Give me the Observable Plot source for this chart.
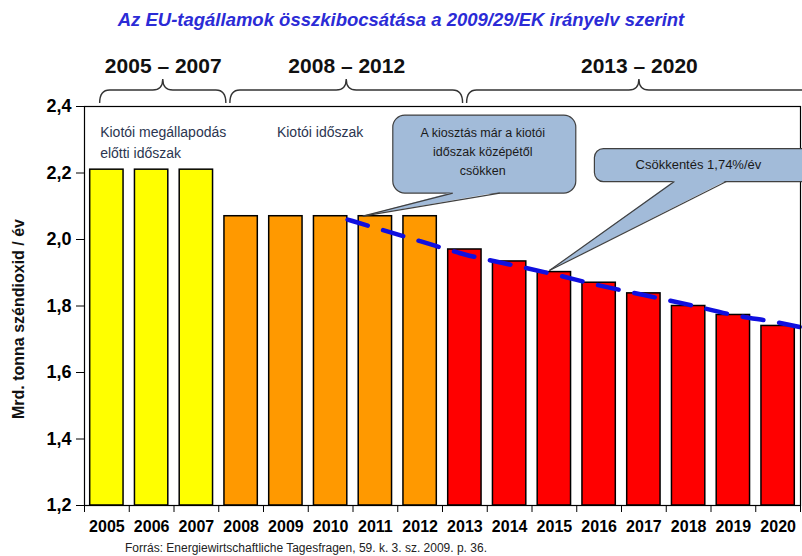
<!DOCTYPE html>
<html><head><meta charset="utf-8">
<script src="https://cdn.jsdelivr.net/npm/d3@7"></script>
<script src="https://cdn.jsdelivr.net/npm/@observablehq/plot@0.6"></script>
<style>
body{margin:0;background:#fff;width:802px;font-family:"Liberation Sans",Arial,sans-serif;}
#title{height:38px;box-sizing:border-box;padding-top:10px;text-align:center;font-style:italic;font-weight:bold;font-size:18.5px;color:#2b2bd6;line-height:20px;}
#caption{height:15px;line-height:15px;font-size:12px;padding-left:125px;color:#222;}
</style></head>
<body>
<div id="title">Az EU-tagállamok összkibocsátása  a 2009/29/EK irányelv szerint</div>
<div id="chart"></div>
<div id="caption">Forrás: Energiewirtschaftliche Tagesfragen, 59. k. 3. sz. 2009. p. 36.</div>
<script>
const years = [2005,2006,2007,2008,2009,2010,2011,2012,2013,2014,2015,2016,2017,2018,2019,2020];
const values = [2.21,2.21,2.21,2.07,2.07,2.07,2.07,2.07,1.97,1.934,1.902,1.870,1.838,1.80,1.773,1.74];
const periodIndex = [0,0,0,1,1,1,1,1,2,2,2,2,2,2,2,2];
const periodNames = ["2005 – 2007","2008 – 2012","2013 – 2020"];
const periodColors = ["#ffff00","#ff9900","#ff0000"];
const braceStart = [2004.85, 2007.76, 2013.05];
const braceEnd = [2007.67, 2012.96, 2020.75];
const yTicks = [1.2,1.4,1.6,1.8,2.0,2.2,2.4];
const noteTexts = ["Kiotói megállapodás\nelőtti időszak", "Kiotói időszak"];
const noteX = [2004.85, 2008.8];
const trendX = [2010.38,2011,2012,2013,2014,2015,2016,2017,2018,2019,2020,2020.55];
const trendY = [2.06,2.035,1.995,1.955,1.925,1.895,1.862,1.833,1.804,1.773,1.750,1.735];
const calloutTexts = [["A kiosztás már a kiotói","időszak középétől","csökken"],["Csökkentés 1,74%/év"]];
const calloutYear = [2010.73, 2014.9];
const calloutValue = [2.069, 1.905];
const yLabel = "Mrd. tonna széndioxid / év";

const bars = years.map((y,i)=>({year:y, value:values[i], color:periodColors[periodIndex[i]]}));
const trend = trendX.map((x,i)=>({x, y:trendY[i]}));
const boundaries = years.map(y=>y-0.5).concat([years[years.length-1]+0.5]);
const fmt = d => d.toFixed(1).replace(".", ",");

const W=802, H=503, mL=84, mR=2, mT=68, mB=36;
const chart = Plot.plot({
  width:W, height:H, marginLeft:mL, marginRight:mR, marginTop:mT, marginBottom:mB,
  style:{fontFamily:"Liberation Sans, Arial, sans-serif", background:"#fff", overflow:"visible", color:"#000"},
  x:{type:"linear", domain:[2004.5,2020.5]},
  y:{domain:[1.2,2.4]},
  color:{type:"identity"},
  marks:[
    Plot.rect(bars,{x1:d=>d.year-0.5, x2:d=>d.year+0.5, y1:1.2, y2:"value", fill:"color", stroke:"#000", strokeWidth:1.5, insetLeft:5.7, insetRight:5.7}),
    Plot.line(trend,{x:"x", y:"y", stroke:"#0f0fe0", strokeWidth:4.5, strokeDasharray:"21,16", curve:"monotone-x"}),
    Plot.frame({stroke:"#000", strokeWidth:1.2}),
    Plot.axisY({ticks:yTicks, tickFormat:fmt, tickSize:8, tickPadding:5, fontSize:18, fontWeight:"bold", label:null}),
    Plot.axisX({ticks:boundaries, tickFormat:()=>"", tickSize:7, label:null}),
    Plot.axisX({ticks:years, tickFormat:d=>String(d), tickSize:0, tickPadding:15, fontSize:16, fontWeight:"bold", label:null}),
    Plot.text(periodNames,{x:(d,i)=>(braceStart[i]+braceEnd[i])/2, frameAnchor:"top", lineAnchor:"middle", dy:-40, fontSize:21, fontWeight:"bold", fill:"#111"}),
    Plot.text(noteTexts,{x:(d,i)=>noteX[i], frameAnchor:"top", dy:16, textAnchor:"start", lineAnchor:"top", lineHeight:1.5, fontSize:14, fill:"#2b3550"}),
    Plot.text([yLabel],{frameAnchor:"left", textAnchor:"middle", lineAnchor:"middle", dx:-66, dy:13, rotate:-90, fontSize:16, fontWeight:"bold", fill:"#111"})
  ]
});
document.getElementById("chart").appendChild(chart);

const sx = chart.scale("x"), sy = chart.scale("y");
const svg = d3.select(chart);
const g = svg.append("g");
// braces
periodNames.forEach((p,i)=>{
  const xa = sx.apply(braceStart[i]), xb = sx.apply(braceEnd[i]), xm=(xa+xb)/2, r=10;
  const yB = mT-3, yM = mT-16, yT = mT-27;
  const d = `M${xa},${yB} Q${xa},${yM} ${xa+r},${yM} L${xm-r},${yM} Q${xm},${yM} ${xm},${yT} Q${xm},${yM} ${xm+r},${yM} L${xb-r},${yM} Q${xb},${yM} ${xb},${yB}`;
  g.append("path").attr("d",d).attr("fill","none").attr("stroke","#333").attr("stroke-width",1.4);
});
// callouts
const boxes = [
  {dx0:30, dx1:213, dy0:-101, dy1:-23, b0:60, b1:107, r:12, tdx:120, tdy:-83, fs:12.5},
  {dx0:45, dx1:270, dy0:-122, dy1:-89, b0:80, b1:132, r:9, tdx:149, tdy:-106, fs:13}
];
calloutTexts.forEach((lines,i)=>{
  const b = boxes[i];
  const tx = sx.apply(calloutYear[i]), ty = sy.apply(calloutValue[i]);
  const x0=tx+b.dx0, x1=tx+b.dx1, y0=ty+b.dy0, y1=ty+b.dy1;
  const fill="#a2bbd9", stroke="#404040";
  g.append("rect").attr("x",x0).attr("y",y0).attr("width",x1-x0).attr("height",y1-y0).attr("rx",b.r)
    .attr("fill",fill).attr("stroke",stroke).attr("stroke-width",1.2);
  g.append("polygon").attr("points",`${x0+b.b0},${y1-1} ${x0+b.b1},${y1-1} ${tx},${ty}`).attr("fill",fill);
  g.append("line").attr("x1",x0+b.b0).attr("y1",y1).attr("x2",tx).attr("y2",ty).attr("stroke",stroke).attr("stroke-width",1.2);
  g.append("line").attr("x1",x0+b.b1).attr("y1",y1).attr("x2",tx).attr("y2",ty).attr("stroke",stroke).attr("stroke-width",1.2);
  lines.forEach((t,j)=>{
    g.append("text").attr("x",tx+b.tdx).attr("y",ty+b.tdy+j*19).attr("text-anchor","middle")
      .attr("dominant-baseline","central").attr("font-size",b.fs).attr("fill","#1a1a1a").text(t);
  });
});
</script>
</body></html>
